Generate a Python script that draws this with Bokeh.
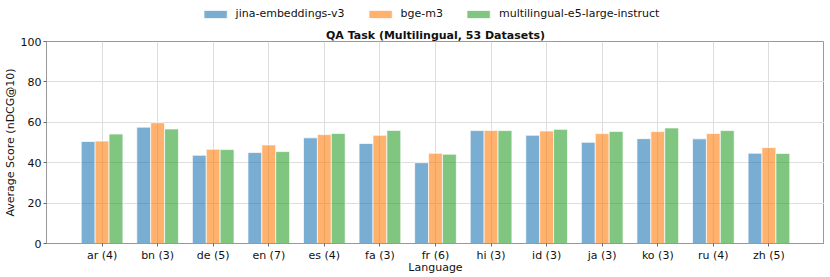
from bokeh.plotting import figure
from bokeh.layouts import column
from bokeh.models import (ColumnDataSource, FixedTicker, Legend, LegendItem, Range1d)
from bokeh.transform import dodge
from bokeh.embed import file_html
from bokeh.resources import INLINE

languages = ["ar (4)", "bn (3)", "de (5)", "en (7)", "es (4)", "fa (3)", "fr (6)",
             "hi (3)", "id (3)", "ja (3)", "ko (3)", "ru (4)", "zh (5)"]
jina = [50.5, 57.6, 43.7, 45.0, 52.3, 49.5, 40.0, 55.9, 53.6, 50.1, 51.9, 51.8, 44.7]
bge = [50.7, 59.8, 46.7, 48.8, 53.9, 53.6, 44.7, 56.0, 55.7, 54.4, 55.4, 54.5, 47.5]
e5 = [54.2, 56.7, 46.5, 45.5, 54.5, 56.0, 44.2, 55.9, 56.5, 55.5, 57.2, 55.9, 44.6]
series_names = ["jina-embeddings-v3", "bge-m3", "multilingual-e5-large-instruct"]
colors = ["#1f77b4", "#ff7f0e", "#2ca02c"]
y_ticks = [0, 20, 40, 60, 80, 100]

xs = list(range(len(languages)))
src = ColumnDataSource(dict(x=xs, jina=jina, bge=bge, e5=e5))
cols = ["jina", "bge", "e5"]
offsets = [-0.25, 0.0, 0.25]

FONT = "DejaVu Sans"
FRAME_H = 202

# ---- main chart ----
p = figure(frame_width=778, frame_height=FRAME_H, output_backend="svg", toolbar_location=None,
           x_range=Range1d(-1, len(languages)), y_range=Range1d(0, 100),
           title="QA Task (Multilingual, 53 Datasets)",
           min_border_left=39, min_border_right=0, min_border_top=19, min_border_bottom=24)

for col, off, c in zip(cols, offsets, colors):
    p.vbar(x=dodge("x", off), top=col, width=0.25, source=src,
           fill_color=c, fill_alpha=0.6, line_color="white", line_width=0.7)

p.title.align = "center"
p.title.text_font = FONT
p.title.text_font_size = "11px"
p.title.text_font_style = "bold"
p.title.text_color = "#111111"
p.title.standoff = 0
p.title.offset = 0

p.xaxis.ticker = FixedTicker(ticks=xs)
p.xaxis.major_label_overrides = {i: l for i, l in enumerate(languages)}
p.yaxis.ticker = FixedTicker(ticks=y_ticks)
p.xgrid.ticker = FixedTicker(ticks=xs + [len(languages)])
for ax in (p.xaxis[0], p.yaxis[0]):
    ax.axis_line_color = "#999999"
    ax.major_tick_line_color = "#666666"
    ax.major_tick_out = 3
    ax.major_tick_in = 0
    ax.minor_tick_line_color = None
    ax.major_label_text_font = FONT
    ax.major_label_text_font_size = "11px"
    ax.major_label_text_color = "#111111"
    ax.major_label_standoff = 2
    ax.axis_label_text_font = FONT
    ax.axis_label_text_font_size = "11px"
    ax.axis_label_text_font_style = "normal"
    ax.axis_label_text_color = "#111111"
    ax.axis_label_standoff = 1
p.xaxis.axis_label_standoff = -4
p.xaxis.axis_label = "Language"
p.yaxis.axis_label = "Average Score (nDCG@10)"

p.grid.grid_line_color = "#dddddd"
p.grid.grid_line_width = 1
p.outline_line_color = "#999999"
p.outline_line_width = 1

# ---- legend strip (same bars, kept outside its visible range; only the legend shows) ----
lg = figure(width=814, height=22, output_backend="svg", toolbar_location=None,
            x_range=Range1d(-100, -99), y_range=Range1d(0, 100),
            x_axis_location=None, y_axis_location=None,
            min_border=0, outline_line_color=None)
lg.grid.visible = False
legend_renderers = []
for col, off, c in zip(cols, offsets, colors):
    r = lg.vbar(x=dodge("x", off), top=col, width=0.25, source=src,
                fill_color=c, fill_alpha=0.6, line_color="white", line_width=0.7)
    legend_renderers.append(r)
legend = Legend(items=[LegendItem(label=n, renderers=[r], index=0)
                       for n, r in zip(series_names, legend_renderers)],
                orientation="horizontal", location="top_center",
                label_text_font=FONT, label_text_font_size="11px", label_text_color="#111111",
                glyph_width=29, glyph_height=10, label_standoff=6, spacing=21,
                label_height=12, padding=0, margin=7,
                border_line_alpha=0, background_fill_alpha=0)
lg.add_layout(legend, "center")

layout = column(lg, p, spacing=0)
open("out.html", "w").write(file_html(layout, INLINE))
